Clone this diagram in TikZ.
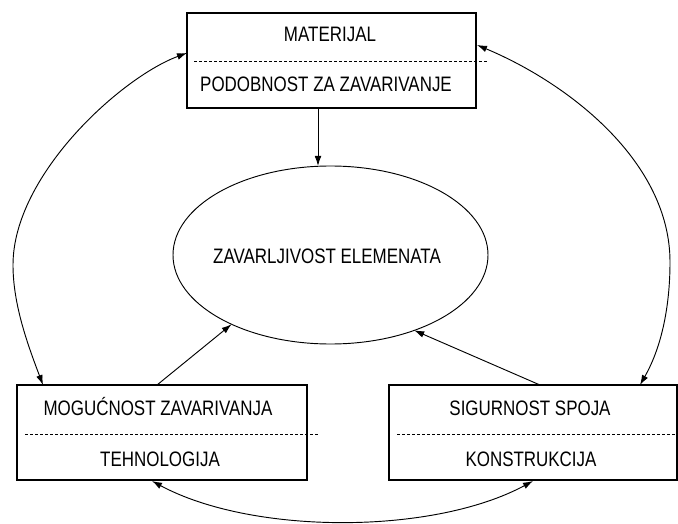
\documentclass[tikz,border=0pt]{standalone}
\usepackage{fontspec}
\setmainfont{Liberation Sans}[FakeStretch=0.81]
\usetikzlibrary{shapes.geometric,arrows.meta,calc}
\tikzset{
  boxnode/.style={draw,line width=0.8pt,rectangle,inner sep=0pt,outer sep=0pt,minimum height=71.25pt},
  ellnode/.style={draw,line width=0.7pt,ellipse,inner sep=0pt,outer sep=0pt,minimum width=236.25pt,minimum height=133.5pt},
  lbl/.style={anchor=base,inner sep=0pt,font=\fontsize{15.7}{18}\selectfont},
  sep/.style={line width=0.6pt,dash pattern=on 2.25pt off 1.5pt},
  arr/.style={line width=0.7pt,-{Latex[length=7.5pt,width=5pt]}},
  darr/.style={line width=0.7pt,{Latex[length=7.5pt,width=5pt]}-{Latex[length=7.5pt,width=5pt]}}
}
\begin{document}
\begin{tikzpicture}[x=0.75pt,y=-0.75pt]
\useasboundingbox (0,0) rectangle (678,524);
% boxes
\node[boxnode,minimum width=216.75pt] (top) at (331.5,60.5) {};
\node[boxnode,minimum width=217.5pt] (bl) at (162,432.5) {};
\node[boxnode,minimum width=216pt] (br) at (533,432.5) {};
\node[ellnode] (ell) at (330.5,255) {};
% texts
\node[lbl] (t1) at (330,42) {MATERIJAL};
\node[lbl] (t2) at (326,92) {PODOBNOST ZA ZAVARIVANJE};
\node[lbl] (t3) at (158,415) {MOGUĆNOST ZAVARIVANJA};
\node[lbl] (t4) at (160,466) {TEHNOLOGIJA};
\node[lbl] (t5) at (530,415) {SIGURNOST SPOJA};
\node[lbl] (t6) at (531,466) {KONSTRUKCIJA};
\node[lbl] (t7) at (327,263) {ZAVARLJIVOST ELEMENATA};
% dashed separators
\draw[sep] ($(top.west)+(7,1)$) -- ($(top.east)+(11,1)$);
\draw[sep] ($(bl.west)+(8,2)$) -- ($(bl.east)+(11,2)$);
\draw[sep] ($(br.west)+(8,2)$) -- (br.east |- {$(br.west)+(0,2)$});
% straight arrows
\coordinate (a1) at ($(top.south)+(-13.5,0)$);
\draw[arr] (a1) -- (ell.north -| a1);
\draw[arr] ($(bl.north)+(-5,0)$) -- (ell.215);
\draw[arr] ($(br.north)+(7,0)$) -- (ell.318);
% curved double arrows
\coordinate (lt) at ($(top.west)+(0,-7.5)$);
\coordinate (lm) at (13,265);
\coordinate (lb) at ($(bl.north west)+(26,0)$);
\draw[darr] (lt) .. controls (121.3,77.3) and (13,175) .. (lm)
  .. controls (13,305) and (28.2,345.9) .. (lb);
\coordinate (rt) at ($(top.east)+(1,-15.5)$);
\coordinate (rm) at (670,262);
\coordinate (rb) at ($(br.north east)+(-37,0)$);
\draw[darr] (rt) .. controls (569.2,83.6) and (670,162) .. (rm)
  .. controls (670,302) and (663.1,344.4) .. (rb);
\coordinate (bl1) at ($(bl.south)+(-10,1)$);
\coordinate (br1) at ($(br.south)+(0,1)$);
\draw[darr] (bl1) .. controls (252,535) and (433,535) .. (br1);
\end{tikzpicture}
\end{document}
